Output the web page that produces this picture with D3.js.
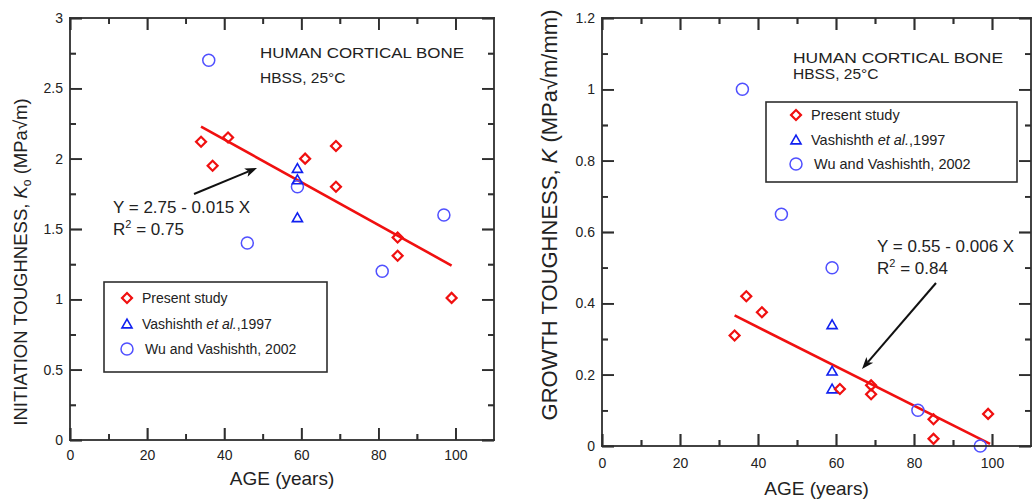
<!DOCTYPE html>
<html>
<head>
<meta charset="utf-8">
<script src="https://cdn.jsdelivr.net/npm/d3@7"></script>
<style>
  html, body { margin: 0; padding: 0; background: #fff; }
  svg { display: block; font-family: "Liberation Sans", Arial, Helvetica, sans-serif; }
</style>
</head>
<body>
<svg id="chart" width="1033" height="503"></svg>
<script>
// ---- Initiation toughness (left panel) ----
const initPresentAge = [34, 37, 41, 61, 69, 69, 85, 85, 99];
const initPresentK   = [2.12, 1.95, 2.15, 2.00, 2.09, 1.80, 1.44, 1.31, 1.01];
const initVashAge    = [59, 59, 59];
const initVashK      = [1.93, 1.85, 1.58];
const initWuAge      = [36, 46, 59, 81, 97];
const initWuK        = [2.70, 1.40, 1.80, 1.20, 1.60];
const initFit        = { a: 2.745, b: -0.0152, from: 34, to: 99 };
const initTicksY     = [0, 0.5, 1, 1.5, 2, 2.5, 3];

// ---- Growth toughness (right panel) ----
const growPresentAge = [34, 37, 41, 61, 69, 69, 85, 85, 99];
const growPresentK   = [0.31, 0.42, 0.375, 0.16, 0.17, 0.145, 0.075, 0.02, 0.09];
const growVashAge    = [59, 59, 59];
const growVashK      = [0.34, 0.21, 0.16];
const growWuAge      = [36, 46, 59, 81, 97];
const growWuK        = [1.00, 0.65, 0.50, 0.10, 0.00];
const growFit        = { a: 0.553, b: -0.0055, from: 34, to: 99.5 };
const growTicksY     = [0, 0.2, 0.4, 0.6, 0.8, 1, 1.2];

const ageTicks = [0, 20, 40, 60, 80, 100];
const ageMinor = [10, 30, 50, 70, 90];

const RED = "#f01010", BLUE_TRI = "#1020f0", BLUE_CIR = "#5050ff", INK = "#2e2e2e";

const svg = d3.select("#chart");

function zip(xs, ys) { return xs.map((x, i) => [x, ys[i]]); }

function drawPanel(cfg) {
  const x = d3.scaleLinear().domain([0, 110]).range([cfg.left, cfg.right]);
  const y = d3.scaleLinear().domain(cfg.yDomain).range([cfg.bottom, cfg.top]);
  const g = svg.append("g");

  // regression line
  const fitPts = [cfg.fit.from, cfg.fit.to].map(a => [a, cfg.fit.a + cfg.fit.b * a]);
  g.append("path").attr("d", d3.line().x(d => x(d[0])).y(d => y(d[1]))(fitPts))
    .attr("stroke", RED).attr("stroke-width", 2.6).attr("fill", "none");

  // markers
  const diamond = d3.symbol().type(d3.symbolSquare).size(50)();
  const tri = d3.symbol().type(d3.symbolTriangle).size(44)();
  g.append("g").selectAll("circle").data(zip(cfg.wuAge, cfg.wuK)).join("circle")
    .attr("cx", d => x(d[0])).attr("cy", d => y(d[1])).attr("r", 6)
    .attr("fill", "none").attr("stroke", BLUE_CIR).attr("stroke-width", 1.5);
  g.append("g").selectAll("path").data(zip(cfg.vashAge, cfg.vashK)).join("path")
    .attr("d", tri).attr("transform", d => `translate(${x(d[0])},${y(d[1]) + 1})`)
    .attr("fill", "none").attr("stroke", BLUE_TRI).attr("stroke-width", 1.6);
  g.append("g").selectAll("path").data(zip(cfg.presentAge, cfg.presentK)).join("path")
    .attr("d", diamond).attr("transform", d => `translate(${x(d[0])},${y(d[1])}) rotate(45)`)
    .attr("fill", "none").attr("stroke", RED).attr("stroke-width", 2.2);

  // axis titles
  g.append("text").attr("x", (cfg.left + cfg.right) / 2).attr("y", cfg.xTitleY)
    .attr("text-anchor", "middle").style("font-size", "19px").attr("fill", "#222").text("AGE (years)");
  const yt = g.append("text").attr("transform", `translate(${cfg.yTitleX},${cfg.yTitleCy}) rotate(-90)`)
    .attr("text-anchor", "middle").style("font-size", cfg.yTitleSize).attr("fill", "#222");
  cfg.yTitle(yt);

  // annotation
  g.append("text").attr("x", cfg.noteX).attr("y", cfg.noteY1).style("font-size", "15.5px").attr("fill", "#222")
    .attr("textLength", cfg.noteW).attr("lengthAdjust", "spacingAndGlyphs").text("HUMAN CORTICAL BONE");
  g.append("text").attr("x", cfg.noteX).attr("y", cfg.noteY2).style("font-size", "15.5px").attr("fill", "#222")
    .text("HBSS, 25°C");

  // legend
  const L = cfg.legend;
  g.append("rect").attr("x", L.x).attr("y", L.y).attr("width", L.w).attr("height", L.h)
    .attr("fill", "#fff").attr("stroke", INK).attr("stroke-width", 1.6);
  g.append("path").attr("d", diamond).attr("transform", `translate(${L.mx},${L.rows[0]}) rotate(45)`)
    .attr("fill", "none").attr("stroke", RED).attr("stroke-width", 2.2);
  g.append("path").attr("d", tri).attr("transform", `translate(${L.mx},${L.rows[1] + 1})`)
    .attr("fill", "none").attr("stroke", BLUE_TRI).attr("stroke-width", 1.6);
  g.append("circle").attr("cx", L.mx).attr("cy", L.rows[2]).attr("r", 6)
    .attr("fill", "none").attr("stroke", BLUE_CIR).attr("stroke-width", 1.5);
  const lt = (i, dx) => g.append("text").attr("x", L.mx + dx).attr("y", L.rows[i] + 5)
    .style("font-size", L.fs).attr("fill", "#222");
  lt(0, 15).text("Present study");
  const t1 = lt(1, 15);
  t1.append("tspan").text("Vashishth ");
  t1.append("tspan").style("font-style", "italic").text("et al.");
  t1.append("tspan").text(",1997");
  lt(2, 18).text("Wu and Vashishth, 2002");

  // fit equation with arrow pointing at the line
  g.append("text").attr("x", cfg.eqX).attr("y", cfg.eqY).style("font-size", "17px").attr("fill", "#222").text(cfg.eqText);
  const r2 = g.append("text").attr("x", cfg.eqX).attr("y", cfg.eqY + 22).style("font-size", "17px").attr("fill", "#222");
  r2.append("tspan").text("R");
  r2.append("tspan").attr("dy", -7).style("font-size", "11px").text("2");
  r2.append("tspan").attr("dy", 7).text(" = " + cfg.r2Text);

  const [ax1, ay1, ax2, ay2] = cfg.arrow;
  const ang = Math.atan2(ay2 - ay1, ax2 - ax1), hl = 12, hw = 4.5;
  const bx = ax2 - hl * Math.cos(ang), by = ay2 - hl * Math.sin(ang);
  g.append("line").attr("x1", ax1).attr("y1", ay1).attr("x2", bx + 3 * Math.cos(ang)).attr("y2", by + 3 * Math.sin(ang))
    .attr("stroke", "#111").attr("stroke-width", 2);
  g.append("path")
    .attr("d", `M${ax2},${ay2}L${bx - hw * Math.sin(ang)},${by + hw * Math.cos(ang)}L${bx + 3 * Math.cos(ang)},${by + 3 * Math.sin(ang)}L${bx + hw * Math.sin(ang)},${by - hw * Math.cos(ang)}Z`)
    .attr("fill", "#111");

  // inward ticks on all four sides: each axis tick also gets a solid bar
  const major = 12, minor = 6, tw = 1.7;
  const yMinor = d3.range(cfg.yTicks.length - 1).map(i => (cfg.yTicks[i] + cfg.yTicks[i + 1]) / 2);
  const axisAt = (axis, tx, ty, side, len) => {
    const a = g.append("g").attr("transform", `translate(${tx},${ty})`)
      .attr("color", INK).attr("stroke-width", tw).call(axis);
    a.select(".domain").remove();
    a.selectAll("text").attr("fill", "#222").style("font-size", "14px");
    a.selectAll(".tick").append("rect")
      .attr("x", side === "b" || side === "t" ? -tw / 2 : (side === "l" ? 0 : -len))
      .attr("y", side === "b" ? -len : (side === "t" ? 0 : -tw / 2))
      .attr("width", side === "b" || side === "t" ? tw : len)
      .attr("height", side === "b" || side === "t" ? len : tw)
      .attr("fill", INK);
  };

  axisAt(d3.axisBottom(x).tickValues(ageTicks).tickSizeInner(-major).tickSizeOuter(0).tickPadding(cfg.xPad).tickFormat(d3.format("d")), 0, cfg.bottom, "b", major);
  axisAt(d3.axisBottom(x).tickValues(ageMinor).tickSizeInner(-minor).tickSizeOuter(0).tickFormat(() => ""), 0, cfg.bottom, "b", minor);
  axisAt(d3.axisTop(x).tickValues(ageTicks).tickSizeInner(-major).tickSizeOuter(0).tickFormat(() => ""), 0, cfg.top, "t", major);
  axisAt(d3.axisTop(x).tickValues(ageMinor).tickSizeInner(-minor).tickSizeOuter(0).tickFormat(() => ""), 0, cfg.top, "t", minor);
  axisAt(d3.axisLeft(y).tickValues(cfg.yTicks).tickSizeInner(-major).tickSizeOuter(0).tickPadding(7).tickFormat(d => String(d)), cfg.left, 0, "l", major);
  axisAt(d3.axisLeft(y).tickValues(yMinor).tickSizeInner(-minor).tickSizeOuter(0).tickFormat(() => ""), cfg.left, 0, "l", minor);
  axisAt(d3.axisRight(y).tickValues(cfg.yTicks).tickSizeInner(-major).tickSizeOuter(0).tickFormat(() => ""), cfg.right, 0, "r", major);
  axisAt(d3.axisRight(y).tickValues(yMinor).tickSizeInner(-minor).tickSizeOuter(0).tickFormat(() => ""), cfg.right, 0, "r", minor);

  // plot frame as four solid edge bars
  const fw = 1.8;
  const x0 = x(0), x1 = x(110), y0 = y(cfg.yDomain[0]), y1 = y(cfg.yDomain[1]);
  const edges = [
    { x: x0 - fw / 2, y: y1 - fw / 2, w: x1 - x0 + fw, h: fw },
    { x: x0 - fw / 2, y: y0 - fw / 2, w: x1 - x0 + fw, h: fw },
    { x: x0 - fw / 2, y: y1 - fw / 2, w: fw, h: y0 - y1 + fw },
    { x: x1 - fw / 2, y: y1 - fw / 2, w: fw, h: y0 - y1 + fw }
  ];
  g.append("g").selectAll("rect").data(edges).join("rect")
    .attr("x", d => d.x).attr("y", d => d.y).attr("width", d => d.w).attr("height", d => d.h)
    .attr("fill", INK);
}

drawPanel({
  left: 70, right: 494, top: 18, bottom: 440, yDomain: [0, 3], yTicks: initTicksY, xPad: 10,
  presentAge: initPresentAge, presentK: initPresentK,
  vashAge: initVashAge, vashK: initVashK, wuAge: initWuAge, wuK: initWuK,
  fit: initFit,
  xTitleY: 485, yTitleX: 27, yTitleCy: 262, yTitleSize: "18.5px",
  yTitle: t => {
    t.append("tspan").text("INITIATION TOUGHNESS, ");
    t.append("tspan").style("font-style", "italic").text("K");
    t.append("tspan").attr("dy", 4).style("font-size", "12px").text("o");
    t.append("tspan").attr("dy", -4).text(" (MPa√m)");
  },
  noteX: 260, noteY1: 58, noteY2: 83, noteW: 204,
  legend: { x: 104, y: 282, w: 223, h: 90, mx: 127, rows: [298, 324, 349], fs: "14px" },
  eqX: 113, eqY: 213, eqText: "Y = 2.75 - 0.015 X", r2Text: "0.75",
  arrow: [194, 194, 257, 168]
});

drawPanel({
  left: 602, right: 1031, top: 18, bottom: 446, yDomain: [0, 1.2], yTicks: growTicksY, xPad: 12,
  presentAge: growPresentAge, presentK: growPresentK,
  vashAge: growVashAge, vashK: growVashK, wuAge: growWuAge, wuK: growWuK,
  fit: growFit,
  xTitleY: 495, yTitleX: 557, yTitleCy: 215, yTitleSize: "22px",
  yTitle: t => {
    t.append("tspan").text("GROWTH TOUGHNESS, ");
    t.append("tspan").style("font-style", "italic").text("K");
    t.append("tspan").text(" (MPa√m/mm)");
  },
  noteX: 793, noteY1: 63, noteY2: 79, noteW: 210,
  legend: { x: 766, y: 102, w: 251, h: 80, mx: 796, rows: [115, 140, 164], fs: "14.5px" },
  eqX: 877, eqY: 252, eqText: "Y = 0.55 - 0.006 X", r2Text: "0.84",
  arrow: [936, 283, 862, 369]
});
</script>
</body>
</html>
